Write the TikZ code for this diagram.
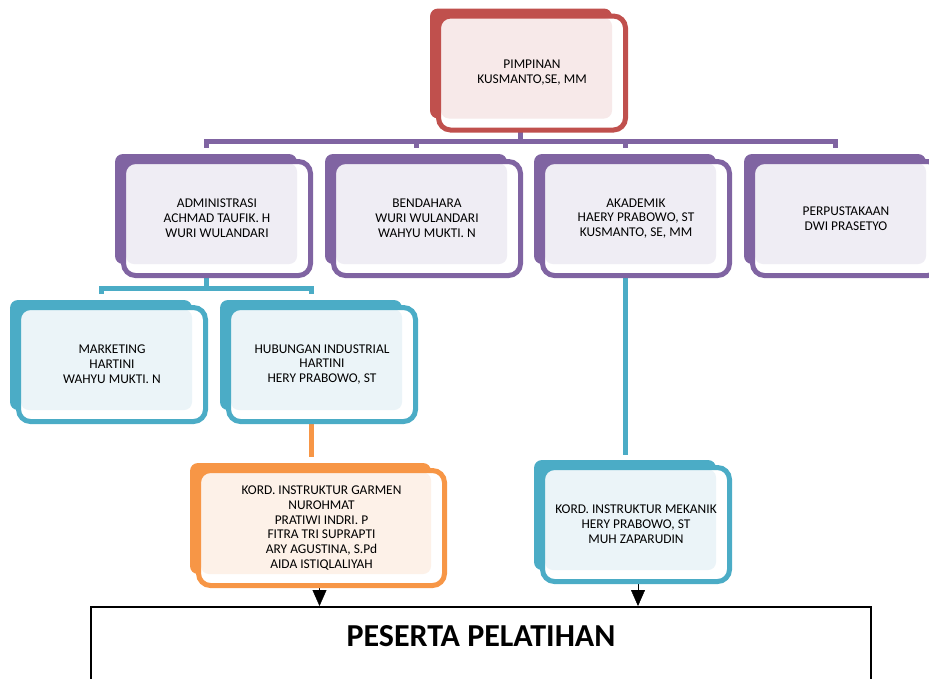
\documentclass[tikz,border=0pt]{standalone}
\usepackage{fontspec}
\setmainfont{Carlito}
\usetikzlibrary{arrows.meta, calc, backgrounds}

\definecolor{redD}{HTML}{C0504D}
\definecolor{redL}{HTML}{F7E9E9}
\definecolor{purpleD}{HTML}{8064A2}
\definecolor{purpleL}{HTML}{EFEDF4}
\definecolor{blueD}{HTML}{4BACC6}
\definecolor{blueL}{HTML}{EBF4F8}
\definecolor{orangeD}{HTML}{F79646}
\definecolor{orangeL}{HTML}{FDF1E8}

\begin{document}
\begin{tikzpicture}[x=1pt, y=-1pt,
  orgbox/.style={draw=#1D, fill=white, line width=5pt, rounded corners=12pt, outer sep=0pt,
    minimum width=187pt, minimum height=114pt, align=center, text=black,
    font=\fontsize{13.4}{14.9}\selectfont,
    path picture={\fill[#1L, rounded corners=8pt]
      ($(path picture bounding box.north west)+(2.5,2)$) rectangle
      ($(path picture bounding box.south east)+(-13.5,-11.5)$);}},
  link/.style={draw=#1, line width=5pt}]
\useasboundingbox (0,0) rectangle (929,678);
\clip (0,0) rectangle (929,678);

% Pimpinan
\node[orgbox=red] (top) at (532,73) {PIMPINAN\\KUSMANTO,SE, MM};

% Bagian
\node[orgbox=purple] (admin) at (217,218.5) {ADMINISTRASI\\ACHMAD TAUFIK. H\\WURI WULANDARI};
\node[orgbox=purple] (bend) at (427,218.5) {BENDAHARA\\WURI WULANDARI\\WAHYU MUKTI. N};
\node[orgbox=purple] (akad) at (636,218.5) {AKADEMIK\\HAERY PRABOWO, ST\\KUSMANTO, SE, MM};
\node[orgbox=purple] (perp) at (846,218.5) {PERPUSTAKAAN\\DWI PRASETYO};

% Sub bagian
\node[orgbox=blue] (mkt) at (112,364.5) {MARKETING\\HARTINI\\WAHYU MUKTI. N};
\node[orgbox=blue] (hub) at (322,364.5) {HUBUNGAN INDUSTRIAL\\HARTINI\\HERY PRABOWO, ST};

% Koordinator instruktur
\node[orgbox=orange, minimum width=246pt, minimum height=115pt] (garmen) at (321.5,528)
  {KORD. INSTRUKTUR GARMEN\\NUROHMAT\\PRATIWI INDRI. P\\FITRA TRI SUPRAPTI\\ARY AGUSTINA, S.Pd\\AIDA ISTIQLALIYAH};
\node[orgbox=blue] (mek) at (636,524.5) {KORD. INSTRUKTUR MEKANIK\\HERY PRABOWO, ST\\MUH ZAPARUDIN};

% Peserta
\node[draw, line width=1.6pt, anchor=north, minimum width=780pt, inner ysep=0pt,
  text height=40pt, text depth=80pt, font=\fontsize{32}{34}\selectfont\bfseries]
  (peserta) at (481,606) {PESERTA PELATIHAN};

\begin{scope}[on background layer]
% back shapes
\foreach \n/\c in {top/redD, admin/purpleD, bend/purpleD, akad/purpleD, perp/purpleD,
    mkt/blueD, hub/blueD, garmen/orangeD, mek/blueD}
  \fill[\c, rounded corners=8pt] ($(\n.north west)+(-8.5,-7.5)$) rectangle ($(\n.south east)+(-13.5,-11.5)$);

% purple bus
\draw[link=purpleD] ([xshift=-12pt]top.south) -- ++(0,12);
\draw[link=purpleD] ([xshift=-11pt,yshift=14pt]admin.north) -- ++(0,-6.5) -| ([xshift=-11pt,yshift=14pt]perp.north);
\foreach \n in {bend, akad}
  \draw[link=purpleD] ([xshift=-11pt,yshift=14pt]\n.north) -- ++(0,-6.5);

% blue bus
\draw[link=blueD] ([xshift=-11pt]admin.south) -- ++(0,12.5);
\draw[link=blueD] ([xshift=-11pt,yshift=13.5pt]mkt.north) -- ++(0,-6) -| ([xshift=-11pt,yshift=13.5pt]hub.north);

% vertical links
\draw[link=orangeD] ($(hub.south)+(-11,0)$) -- ($(hub.south |- garmen.north)+(-11,-13.5)$);
\draw[link=blueD] ($(akad.south)+(-11,0)$) -- ($(akad.south |- mek.north)+(-11,-12.5)$);

% arrows
\draw[-{Triangle[width=14pt,length=16pt]}] ([xshift=-2pt]garmen.south) -- ([xshift=-2pt]garmen.south |- peserta.north);
\draw[-{Triangle[width=14pt,length=16pt]}] ([xshift=2pt]mek.south) -- ([xshift=2pt]mek.south |- peserta.north);
\end{scope}
\end{tikzpicture}
\end{document}
